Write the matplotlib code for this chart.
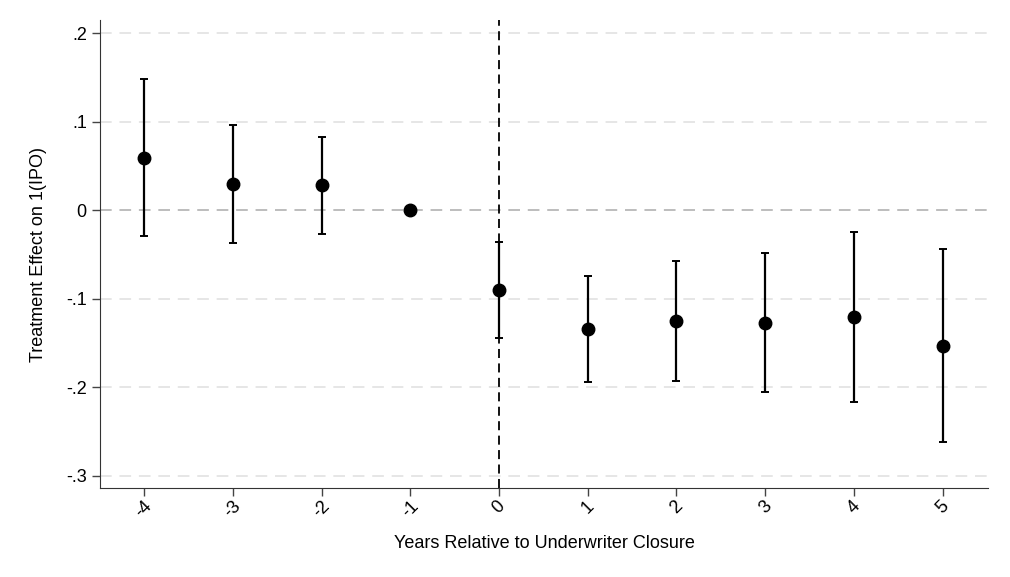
import matplotlib
matplotlib.use("Agg")
import matplotlib.pyplot as plt
import numpy as np

years = [-4, -3, -2, -1, 0, 1, 2, 3, 4, 5]
estimates = [0.059, 0.029, 0.028, 0.0, -0.090, -0.134, -0.125, -0.128, -0.121, -0.154]
ci_upper = [0.148, 0.096, 0.082, 0.0, -0.036, -0.075, -0.058, -0.049, -0.025, -0.044]
ci_lower = [-0.029, -0.037, -0.027, 0.0, -0.144, -0.194, -0.193, -0.205, -0.217, -0.262]
ytick_vals = [0.2, 0.1, 0.0, -0.1, -0.2, -0.3]
ytick_labels = [".2", ".1", "0", "-.1", "-.2", "-.3"]
xtick_labels = ["-4", "-3", "-2", "-1", "0", "1", "2", "3", "4", "5"]

plt.rcParams['font.family'] = ['Liberation Sans', 'DejaVu Sans']

fig = plt.figure(figsize=(10.1, 5.77), dpi=100)
ax = fig.add_axes([100/1010, 1-488/577, 888/1010, 468/577])

for v in ytick_vals:
    if v == 0:
        ax.axhline(v, color='#bdbdbd', lw=1.4, ls=(0, (6, 4)), zorder=0)
    else:
        ax.axhline(v, color='#e6e6e6', lw=1.4, ls=(0, (6, 4)), zorder=0)

ax.axvline(0, color='black', lw=1.3, ls=(0, (5, 3)), zorder=1)

x = np.array(years)
est = np.array(estimates)
up = np.array(ci_upper)
lo = np.array(ci_lower)
mask = up != lo
ax.errorbar(x[mask], est[mask], yerr=[est[mask]-lo[mask], up[mask]-est[mask]],
            fmt='none', ecolor='black', elinewidth=1.6, capsize=3, capthick=1.4, zorder=2)
ax.plot(x, est, 'o', color='black', markersize=9, zorder=3)

ax.set_xlim(-4.496, 5.51)
ax.set_ylim(-0.314, 0.2147)
ax.set_yticks(ytick_vals)
ax.set_yticklabels(ytick_labels, fontsize=13)
ax.set_xticks(years)
ax.set_xticklabels(xtick_labels, rotation=45, fontsize=13, ha='center', va='top')
ax.tick_params(axis='both', direction='out', length=6, width=1, color='#444444')
ax.tick_params(axis='x', pad=1)
ax.spines['top'].set_visible(False)
ax.spines['right'].set_visible(False)
ax.spines['left'].set_color('#333333')
ax.spines['bottom'].set_color('#333333')
ax.set_xlabel("Years Relative to Underwriter Closure", fontsize=13, labelpad=10)
ax.set_ylabel("Treatment Effect on 1(IPO)", fontsize=13, labelpad=14)

fig.savefig("out.png", dpi=100)
